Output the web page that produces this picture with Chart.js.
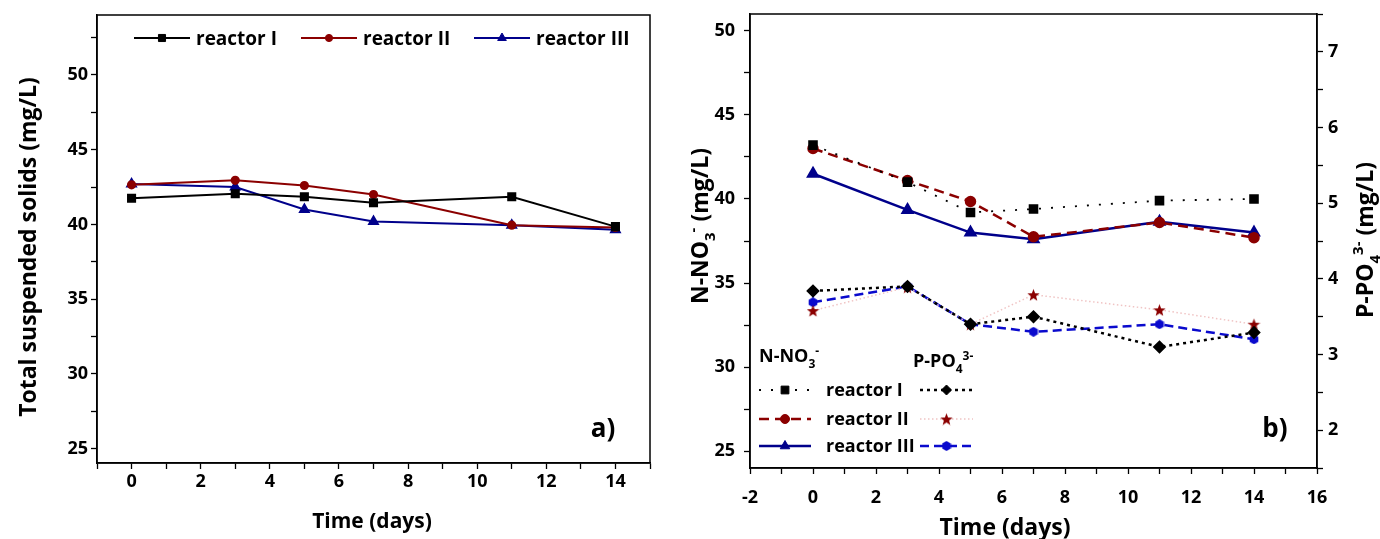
<!DOCTYPE html>
<html>
<head>
<meta charset="utf-8">
<title>TSS and nutrients</title>
<script src="https://cdn.jsdelivr.net/npm/chart.js@4/dist/chart.umd.min.js"></script>
<style>
    html, body { margin: 0; padding: 0; background: #fff; }
    #wrap { position: relative; width: 1380px; height: 539px; }
    #tssChart { position: absolute; left: 0; top: 0; }
    #nutChart { position: absolute; left: 670px; top: 0; }
</style>
</head>
<body>
<div id="wrap">
    <canvas id="tssChart" width="670" height="539"></canvas>
    <canvas id="nutChart" width="710" height="539"></canvas>
</div>
<script>
/* ================================================================
   DATA
   ================================================================ */
const days = [0, 3, 5, 7, 11, 14];
const reactorNames = ['reactor I', 'reactor II', 'reactor III'];

// a) total suspended solids, mg/L
const tssR1 = [41.75, 42.05, 41.85, 41.45, 41.85, 39.85];
const tssR2 = [42.65, 42.95, 42.6, 42.0, 39.95, 39.8];
const tssR3 = [42.7, 42.5, 41.0, 40.2, 39.95, 39.65];

// b) N-NO3- (left axis), mg/L
const no3R1 = [43.2, 41.0, 39.2, 39.4, 39.9, 40.0];
const no3R2 = [43.0, 41.1, 39.85, 37.75, 38.6, 37.7];
const no3R3 = [41.5, 39.35, 38.0, 37.6, 38.65, 38.0];

// b) P-PO4 3- (right axis), mg/L
const po4R1 = [3.84, 3.9, 3.4, 3.5, 3.1, 3.29];
const po4R2 = [3.58, 3.89, 3.4, 3.79, 3.59, 3.4];
const po4R3 = [3.69, 3.9, 3.4, 3.3, 3.4, 3.2];

/* ================================================================
   STYLE HELPERS
   ================================================================ */
const FONT = "'Open Sans', 'DejaVu Sans', sans-serif";
const BLACK = '#000000';
const DARKRED = '#8b0000';
const NAVY = '#00008b';
const BLUE = '#0a0acd';
const PINK = '#f0c4c4';

const pts = arr => days.map((d, i) => ({ x: d, y: arr[i] }));

function polyImage(size, color, n, inner) {
    const c = document.createElement('canvas');
    c.width = c.height = size;
    const g = c.getContext('2d');
    g.fillStyle = color;
    g.beginPath();
    const k = inner ? n * 2 : n;
    for (let i = 0; i < k; i++) {
        const r = inner && i % 2 ? size * inner : size * 0.5;
        const a = -Math.PI / 2 + i * 2 * Math.PI / k;
        g.lineTo(size / 2 + r * Math.cos(a), size / 2 + r * Math.sin(a) + (inner ? size * 0.05 : 0));
    }
    g.closePath();
    g.fill();
    return c;
}
const starMark = polyImage(13, DARKRED, 5, 0.21);
const hexMark = polyImage(10, BLUE, 6);

function partFont(kind, size) {
    const s = kind === 'n' ? size : Math.round(size * 0.66);
    return `bold ${s}px ${FONT}`;
}
function richWidth(ctx, parts, size) {
    let w = 0;
    parts.forEach(([t, k]) => { ctx.font = partFont(k, size); w += ctx.measureText(t).width; });
    return w;
}
function drawRich(ctx, parts, x, y, size, align) {
    let cx = align === 'left' ? x : x - richWidth(ctx, parts, size) / 2;
    ctx.textAlign = 'left';
    ctx.textBaseline = 'alphabetic';
    parts.forEach(([t, k]) => {
        ctx.font = partFont(k, size);
        const dy = k === 'sub' ? size * 0.3 : k === 'sup' ? -size * 0.42 : 0;
        ctx.fillText(t, cx, y + dy);
        cx += ctx.measureText(t).width;
    });
}

function drawMarker(ctx, ds, x, y) {
    ctx.save();
    ctx.fillStyle = ds.pointBackgroundColor || ds.borderColor;
    ctx.strokeStyle = ds.pointBorderColor || ds.borderColor;
    ctx.setLineDash([]);
    Chart.helpers.drawPoint(ctx, { pointStyle: ds.pointStyle, radius: ds.pointRadius, rotation: 0, borderWidth: 1 }, x, y);
    ctx.restore();
}

/* ================================================================
   PLUGINS
   ================================================================ */
const framePlugin = {
    id: 'frame',
    afterDatasetsDraw(chart) {
        const a = chart.chartArea, ctx = chart.ctx;
        ctx.save();
        ctx.strokeStyle = BLACK;
        ctx.lineWidth = 1.5;
        ctx.strokeRect(a.left, a.top, a.right - a.left, a.bottom - a.top);
        ctx.restore();
    }
};

const panelTextPlugin = {
    id: 'panelText',
    afterDraw(chart, args, opts) {
        const ctx = chart.ctx;
        (opts.items || []).forEach(it => {
            ctx.save();
            ctx.fillStyle = BLACK;
            ctx.translate(it.x, it.y);
            if (it.rot) ctx.rotate(it.rot * Math.PI / 180);
            drawRich(ctx, it.parts, 0, it.size * 0.35, it.size, it.align);
            ctx.restore();
        });
    }
};

const sampleLegendPlugin = {
    id: 'sampleLegend',
    afterDraw(chart, args, opts) {
        const ctx = chart.ctx;
        const size = opts.size || 18;
        (opts.items || []).forEach(it => {
            const ds = chart.data.datasets[it.ds];
            ctx.save();
            ctx.strokeStyle = ds.borderColor;
            ctx.lineWidth = ds.borderWidth;
            ctx.setLineDash(ds.borderDash || []);
            ctx.beginPath();
            ctx.moveTo(it.x1, it.y);
            ctx.lineTo(it.x2, it.y);
            ctx.stroke();
            ctx.restore();
            drawMarker(ctx, ds, (it.x1 + it.x2) / 2, it.y);
            if (it.text) {
                ctx.save();
                ctx.fillStyle = BLACK;
                drawRich(ctx, [[it.text, 'n']], it.tx, it.y + size * 0.35, size, 'left');
                ctx.restore();
            }
        });
    }
};

/* ================================================================
   AXES
   ================================================================ */
const tickFont = { family: FONT, size: 18, weight: 'bold' };

function xAxis(min, max, lo, hi, height, pad) {
    return {
        type: 'linear', min: min, max: max,
        ticks: {
            stepSize: 1, autoSkip: false, maxRotation: 0, includeBounds: false,
            color: BLACK, font: tickFont, padding: pad,
            callback: v => (v >= lo && v <= hi && v % 2 === 0) ? v : ''
        },
        grid: { drawOnChartArea: false, drawTicks: true, tickLength: 6, tickColor: BLACK, tickWidth: 1.3 },
        border: { color: BLACK, width: 1.5 },
        afterFit: s => { s.height = height; s.paddingLeft = 0; s.paddingRight = 0; }
    };
}

function yAxis(min, max, step, every, width, position, pad) {
    return {
        type: 'linear', position: position, min: min, max: max,
        ticks: {
            stepSize: step, autoSkip: false, includeBounds: false,
            color: BLACK, font: tickFont, padding: pad,
            callback: v => (Math.abs(v % every) < 1e-6) ? v : ''
        },
        grid: { drawOnChartArea: false, drawTicks: true, tickLength: 6, tickColor: BLACK, tickWidth: 1.3 },
        border: { color: BLACK, width: 1.5 },
        afterFit: s => { s.width = width; s.paddingTop = 0; s.paddingBottom = 0; }
    };
}

/* ================================================================
   a) TOTAL SUSPENDED SOLIDS
   ================================================================ */
new Chart(document.getElementById('tssChart'), {
    type: 'line',
    data: {
        datasets: [
            { label: reactorNames[0], data: pts(tssR1), borderColor: BLACK, backgroundColor: BLACK, borderWidth: 2, pointStyle: 'rect', pointRadius: 5 },
            { label: reactorNames[1], data: pts(tssR2), borderColor: DARKRED, backgroundColor: DARKRED, borderWidth: 2, pointStyle: 'circle', pointRadius: 3.6 },
            { label: reactorNames[2], data: pts(tssR3), borderColor: NAVY, backgroundColor: NAVY, borderWidth: 2, pointStyle: 'triangle', pointRadius: 5 }
        ]
    },
    options: {
        responsive: false,
        animation: false,
        layout: { padding: { top: 15, right: 20, left: 0, bottom: 0 } },
        elements: { line: { tension: 0 }, point: { borderWidth: 1 } },
        scales: {
            x: xAxis(-1, 15, 0, 14, 76, 2),
            y: yAxis(24.05, 54, 2.5, 5, 97, 'left', 3)
        },
        plugins: {
            legend: { display: false },
            tooltip: { enabled: false },
            sampleLegend: {
                size: 19,
                items: [
                    { ds: 0, x1: 134, x2: 190, y: 38, tx: 196, text: reactorNames[0] },
                    { ds: 1, x1: 301, x2: 357, y: 38, tx: 363, text: reactorNames[1] },
                    { ds: 2, x1: 474, x2: 530, y: 38, tx: 536, text: reactorNames[2] }
                ]
            },
            panelText: {
                items: [
                    { parts: [['Total suspended solids (mg/L)', 'n']], x: 28, y: 247, size: 23, rot: -90 },
                    { parts: [['Time (days)', 'n']], x: 372, y: 521, size: 21 },
                    { parts: [['a)', 'n']], x: 603, y: 428, size: 26 }
                ]
            }
        }
    },
    plugins: [framePlugin, sampleLegendPlugin, panelTextPlugin]
});

/* ================================================================
   b) NITRATE AND PHOSPHATE
   ================================================================ */
new Chart(document.getElementById('nutChart'), {
    type: 'line',
    data: {
        datasets: [
            { label: 'NO3 ' + reactorNames[0], data: pts(no3R1), yAxisID: 'y', borderColor: BLACK, backgroundColor: BLACK, borderWidth: 1.8, borderDash: [2, 10], pointStyle: 'rect', pointRadius: 5.5 },
            { label: 'NO3 ' + reactorNames[1], data: pts(no3R2), yAxisID: 'y', borderColor: DARKRED, backgroundColor: DARKRED, borderWidth: 2.5, borderDash: [10, 6], pointStyle: 'circle', pointRadius: 4.5 },
            { label: 'NO3 ' + reactorNames[2], data: pts(no3R3), yAxisID: 'y', borderColor: NAVY, backgroundColor: NAVY, borderWidth: 2.5, pointStyle: 'triangle', pointRadius: 5.5 },
            { label: 'PO4 ' + reactorNames[0], data: pts(po4R1), yAxisID: 'y2', borderColor: BLACK, backgroundColor: BLACK, borderWidth: 2.5, borderDash: [3, 4], pointStyle: 'rectRot', pointRadius: 5 },
            { label: 'PO4 ' + reactorNames[1], data: pts(po4R2), yAxisID: 'y2', borderColor: PINK, backgroundColor: DARKRED, pointBackgroundColor: DARKRED, pointBorderColor: DARKRED, borderWidth: 1.5, borderDash: [1.5, 2.5], pointStyle: starMark, pointRadius: 6 },
            { label: 'PO4 ' + reactorNames[2], data: pts(po4R3), yAxisID: 'y2', borderColor: BLUE, backgroundColor: BLUE, borderWidth: 2.5, borderDash: [9, 5], pointStyle: hexMark, pointRadius: 5 }
        ]
    },
    options: {
        responsive: false,
        animation: false,
        layout: { padding: { top: 14, right: 0, left: 0, bottom: 0 } },
        elements: { line: { tension: 0 }, point: { borderWidth: 1 } },
        scales: {
            x: xAxis(-2, 16, -2, 16, 71, 13),
            y: yAxis(24, 51, 2.5, 5, 80, 'left', 9),
            y2: yAxis(1.5, 7.5, 0.5, 1, 63, 'right', 5)
        },
        plugins: {
            legend: { display: false },
            tooltip: { enabled: false },
            sampleLegend: {
                size: 18,
                items: [
                    { ds: 0, x1: 89, x2: 141, y: 390, tx: 156, text: reactorNames[0] },
                    { ds: 1, x1: 89, x2: 141, y: 419, tx: 156, text: reactorNames[1] },
                    { ds: 2, x1: 89, x2: 141, y: 446, tx: 156, text: reactorNames[2] },
                    { ds: 3, x1: 250, x2: 303, y: 390 },
                    { ds: 4, x1: 250, x2: 303, y: 419 },
                    { ds: 5, x1: 250, x2: 303, y: 446 }
                ]
            },
            panelText: {
                items: [
                    { parts: [['N-NO', 'n'], ['3', 'sub'], ['-', 'sup'], [' (mg/L)', 'n']], x: 30, y: 226, size: 23, rot: -90 },
                    { parts: [['P-PO', 'n'], ['4', 'sub'], ['3-', 'sup'], [' (mg/L)', 'n']], x: 695, y: 240, size: 23, rot: -90 },
                    { parts: [['Time (days)', 'n']], x: 335, y: 527, size: 23 },
                    { parts: [['b)', 'n']], x: 605, y: 428, size: 26 },
                    { parts: [['N-NO', 'n'], ['3', 'sub'], ['-', 'sup']], x: 89, y: 356, size: 18, align: 'left' },
                    { parts: [['P-PO', 'n'], ['4', 'sub'], ['3-', 'sup']], x: 243, y: 361, size: 18, align: 'left' }
                ]
            }
        }
    },
    plugins: [framePlugin, sampleLegendPlugin, panelTextPlugin]
});
</script>
</body>
</html>
